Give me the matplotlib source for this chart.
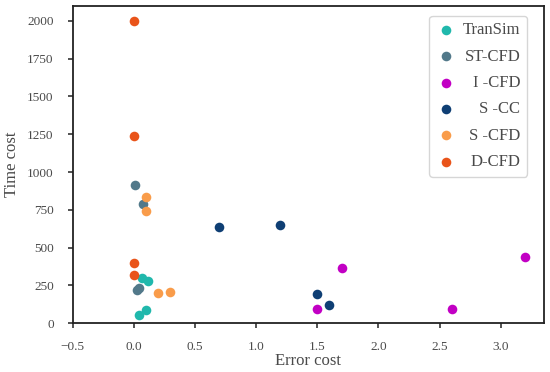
"""Time cost vs error cost scatter for the CFD variants."""

import matplotlib
matplotlib.use("Agg")
from matplotlib import pyplot as plt

# Values
LABELS = ["TranSim", "ST-CFD", "I -CFD", "S -CC", "S -CFD", "D-CFD"]
COLORS = ["#20b8ac", "#52798a", "#c200c4", "#0f3f74", "#f99c4a", "#e9541a"]

transim_x = [0.07, 0.12, 0.04, 0.10]
transim_y = [300, 280, 57, 86]
stcfd_x = [0.01, 0.08, 0.025, 0.04]
stcfd_y = [914, 786, 222, 232]
icfd_x = [1.5, 1.7, 3.2, 2.6]
icfd_y = [93, 366, 439, 93]
scc_x = [0.7, 1.2, 1.5, 1.6]
scc_y = [640, 647, 192, 124]
scfd_x = [0.10, 0.10, 0.20, 0.30]
scfd_y = [832, 744, 201, 210]
dcfd_x = [0.0, 0.0, 0.0, 0.0]
dcfd_y = [2000, 1240, 397, 322]

XS = [transim_x, stcfd_x, icfd_x, scc_x, scfd_x, dcfd_x]
YS = [transim_y, stcfd_y, icfd_y, scc_y, scfd_y, dcfd_y]

TEXT = "#4a4a4a"
plt.rcParams["font.family"] = ["Liberation Serif", "DejaVu Serif"]

fig = plt.figure(figsize=(5.5, 3.72), dpi=100)
ax = fig.add_axes([72.5 / 550, 1 - 323.3 / 372, 471 / 550, 317.6 / 372])

for x, y, c, lab in zip(XS, YS, COLORS, LABELS):
    ax.scatter(x, y, s=48, color=c, label=lab, linewidths=0, zorder=3)

ax.set_xlim(-0.5, 3.35)
ax.set_ylim(0, 2100)
ax.set_xticks([-0.5, 0.0, 0.5, 1.0, 1.5, 2.0, 2.5, 3.0])
ax.set_yticks([0, 250, 500, 750, 1000, 1250, 1500, 1750, 2000])

for side in ax.spines.values():
    side.set_color("#222222")
    side.set_linewidth(1.3)
ax.tick_params(direction="out", length=3.5, width=1.2, color="#333333",
               labelcolor=TEXT, labelsize=9.5)
ax.tick_params(axis="x", pad=9)
ax.tick_params(axis="y", pad=10)
ax.set_xlabel("Error cost", fontsize=12, color=TEXT, labelpad=0)
ax.set_ylabel("Time cost", fontsize=12, color=TEXT, labelpad=5)

leg = ax.legend(loc="upper right", fontsize=12, frameon=True, fancybox=True,
                edgecolor="#cccccc", labelcolor=TEXT, handlelength=1.2,
                handletextpad=0.4, labelspacing=0.62, borderpad=0.4,
                borderaxespad=0,
                bbox_to_anchor=(1 - 16.6 / 471, 1 - 10 / 317.6))

# right-align the legend texts like the original
fig.canvas.draw()
widths = [t.get_window_extent().width for t in leg.get_texts()]
for t, w in zip(leg.get_texts(), widths):
    t.set_position((max(widths) - w, 0))

fig.savefig("out.png", dpi=100)
